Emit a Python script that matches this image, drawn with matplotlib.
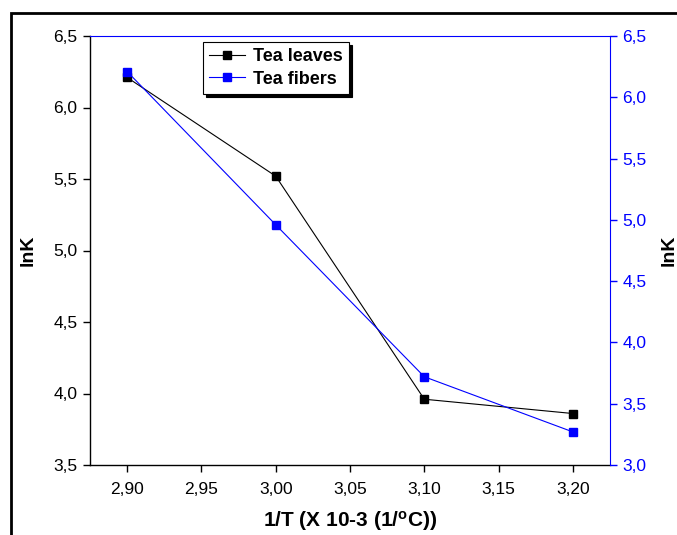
import matplotlib.pyplot as plt
from matplotlib.patches import Rectangle
from matplotlib.ticker import FuncFormatter

plt.rcParams['font.family'] = ['Liberation Sans', 'DejaVu Sans']

inv_t = [2.90, 3.00, 3.10, 3.20]
lnk_leaves = [6.21, 5.52, 3.96, 3.86]
lnk_fibers = [6.21, 4.96, 3.72, 3.27]

comma = FuncFormatter(lambda v, p: ('%.1f' % v).replace('.', ','))
comma2 = FuncFormatter(lambda v, p: ('%.2f' % v).replace('.', ','))

fig = plt.figure(figsize=(6.77, 5.35), dpi=100)
ax = fig.add_axes([90 / 677, 70 / 535, 520 / 677, 429 / 535])
ax2 = ax.twinx()

l1, = ax.plot(inv_t, lnk_leaves, '-s', color='black', lw=0.8, ms=6,
              label='Tea leaves')
l2, = ax2.plot(inv_t, lnk_fibers, '-s', color='blue', lw=0.8, ms=6,
               label='Tea fibers')

ax.set_xlim(2.875, 3.225)
ax.set_ylim(3.5, 6.5)
ax2.set_ylim(3.0, 6.5)
ax.set_xticks([2.90, 2.95, 3.00, 3.05, 3.10, 3.15, 3.20])
ax.set_yticks([3.5, 4.0, 4.5, 5.0, 5.5, 6.0, 6.5])
ax2.set_yticks([3.0, 3.5, 4.0, 4.5, 5.0, 5.5, 6.0, 6.5])
ax.xaxis.set_major_formatter(comma2)
ax.yaxis.set_major_formatter(comma)
ax2.yaxis.set_major_formatter(comma)

ax.tick_params(direction='out', length=5, width=1, labelsize=12.5)
ax.tick_params(axis='x', pad=7)
ax.tick_params(axis='y', pad=4)
ax2.tick_params(direction='out', length=5, width=1, labelsize=12.5, pad=4,
                colors='blue')
ax.spines['top'].set_visible(False)
ax.spines['right'].set_visible(False)
for s in ['left', 'bottom']:
    ax.spines[s].set_linewidth(1)
ax2.spines['left'].set_visible(False)
ax2.spines['bottom'].set_visible(False)
ax2.spines['right'].set_color('blue')
ax2.spines['top'].set_color('blue')

ax.set_xlabel('1/T (X 10-3 (1/$\\mathregular{^o}$C))', fontsize=15,
              fontweight='bold', labelpad=9)
ax.set_ylabel('lnK', fontsize=14, fontweight='bold', labelpad=12)
ax2.set_ylabel('lnK', fontsize=14, fontweight='bold', labelpad=10)

leg = ax2.legend(handles=[l1, l2], loc='upper left',
                 bbox_to_anchor=(113 / 520, 0.986), frameon=True,
                 fancybox=False, shadow={'color': 'black', 'alpha': 1},
                 edgecolor='black', framealpha=1,
                 prop={'weight': 'bold', 'size': 13},
                 handlelength=2.0, handletextpad=0.4, borderpad=0.35,
                 labelspacing=0.3, borderaxespad=0)
leg.get_frame().set_linewidth(0.8)

# outer frame around the figure
fig.patches.append(Rectangle((11 / 677, -0.05), 1.2, 1 - 13 / 535 + 0.05,
                             transform=fig.transFigure, fill=False,
                             edgecolor='black', lw=2))

fig.savefig('out.png', dpi=100)
